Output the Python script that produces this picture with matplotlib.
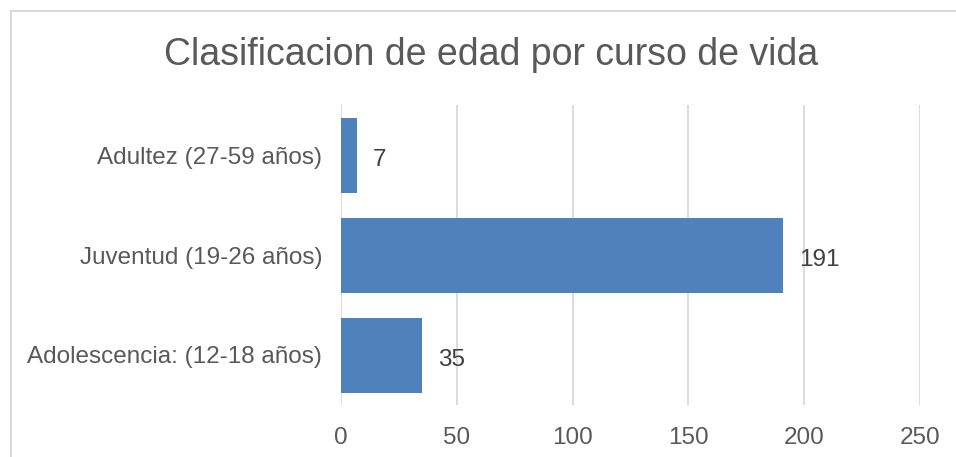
import matplotlib.pyplot as plt
from matplotlib.lines import Line2D

plt.rcParams['font.family'] = ['Liberation Sans', 'DejaVu Sans']

categorias = ["Adolescencia: (12-18 años)", "Juventud (19-26 años)", "Adultez (27-59 años)"]
valores = [35, 191, 7]
xticks = [0, 50, 100, 150, 200, 250]

texto = "#595959"
azul = "#4F81BD"

fig = plt.figure(figsize=(9.56, 4.57), dpi=100)
ax = fig.add_axes([341/956, 1 - 405/457, (920 - 341)/956, 300/457])

ax.barh(range(len(categorias)), valores, height=0.75, color=azul, zorder=3)
for i, v in enumerate(valores):
    ax.annotate(str(v), (v, i), xytext=(11.5, -2), textcoords="offset points",
                ha="left", va="center_baseline", fontsize=17.5, color="#404040")

ax.set_xlim(0, 250)
ax.set_ylim(-0.5, 2.5)
ax.set_xticks(xticks)
ax.set_yticks(range(len(categorias)))
ax.set_yticklabels(categorias)
ax.tick_params(axis="both", length=0, labelsize=17.5, labelcolor=texto)
ax.tick_params(axis="x", pad=16)
ax.tick_params(axis="y", pad=13.5)
for t in ax.get_yticklabels():
    t.set_y(t.get_position()[1])
ax.grid(axis="x", color="#D9D9D9", linewidth=1.3, zorder=0)
for s in ax.spines.values():
    s.set_visible(False)

fig.text(491/956, 1 - 55/457, "Clasificacion de edad por curso de vida",
         ha="center", va="center", fontsize=27, color=texto)

# chart border (top and left only visible in the crop)
fig.add_artist(Line2D([11/956, 11/956], [0, 1 - 11/457], color="#D9D9D9", linewidth=1.5,
                      transform=fig.transFigure))
fig.add_artist(Line2D([11/956, 1], [1 - 11/457, 1 - 11/457], color="#D9D9D9", linewidth=1.5,
                      transform=fig.transFigure))

fig.savefig("out.png", dpi=100)
